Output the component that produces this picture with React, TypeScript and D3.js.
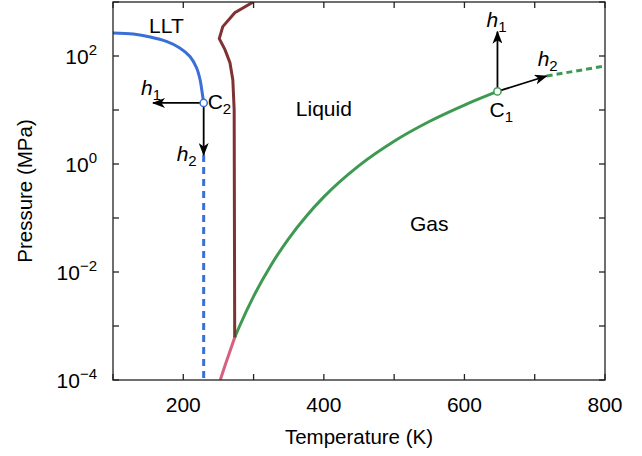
import * as d3 from "d3";

// liquid–gas coexistence (solid green), T in K, P in MPa
const vapT = [273.16, 280, 300, 325, 350, 375, 400, 450, 500, 550, 600, 647];
const vapP = [0.000611, 0.00099, 0.00354, 0.0135, 0.0417, 0.108, 0.2457, 0.932, 2.64, 6.12, 12.34, 22.06];

// supercritical continuation (dashed green)
const widomT = [717, 800];
const widomP = [42.6, 65.3];

// melting line (brown)
const meltT = [273.16, 272.4, 270.5, 266.4, 259.3, 251.2, 256.2, 273.3, 299.6];
const meltP = [0.000611, 10, 36, 75, 131, 209.9, 350, 632.4, 1000];

// sublimation line (pink)
const sublT = [252.6, 260, 273.16];
const sublP = [0.0001, 0.000196, 0.000611];

// liquid–liquid transition (solid blue) and its dashed continuation
const lltT = [100, 129, 153, 176, 195, 209.5, 219, 224, 226.2, 229];
const lltP = [267, 255, 225, 186, 141, 98, 60, 36, 24, 13.5];
const lltDashT = [229, 229];
const lltDashP = [1.47, 0.0001];

// critical points
const c1 = { T: 647, P: 22.06 };
const c2 = { T: 229, P: 13.5 };

// h1/h2 arrows: from, to (T, P)
const arrowFrom = [c2, c2, c1, c1];
const arrowTo = [
  { T: 156.9, P: 13.5 },
  { T: 229, P: 1.47 },
  { T: 647, P: 282 },
  { T: 717, P: 42.6 },
];
const arrowSub = ["1", "2", "1", "2"];

const xTicks = [100, 200, 300, 400, 500, 600, 700, 800];
const xLabels = [200, 400, 600, 800];
const yTicks = [-4, -3, -2, -1, 0, 1, 2, 3];
const yLabels = [-4, -2, 0, 2];

const regions = [
  { name: "LLT", T: 176, P: 270 },
  { name: "Liquid", T: 400, P: 7.8 },
  { name: "Gas", T: 550, P: 0.057 },
];

const font = "'Liberation Sans', Arial, Helvetica, sans-serif";

export default function App() {
  const W = 642;
  const H = 456;
  const x = d3.scaleLinear().domain([100, 800]).range([113, 605]);
  const y = d3.scaleLog().domain([1e-4, 1e3]).range([380, 2]);
  const [x0, x1] = x.range();
  const [y0, y1] = y.range();

  const path = (ts: number[], ps: number[], curve: d3.CurveFactory = d3.curveLinear) =>
    d3
      .line<number>()
      .x((_, i) => x(ts[i]))
      .y((_, i) => y(ps[i]))
      .curve(curve)(ts) ?? "";

  const tickLen = 6;
  const axisColor = "#222";
  const fs = 21;
  const sub = 15;

  // label offsets relative to the arrow tip (px)
  const hOffset = [
    { dx: -12, dy: -8 },
    { dx: -27, dy: 6 },
    { dx: -11, dy: -5 },
    { dx: -9, dy: -10 },
  ];

  return (
    <svg
      width={W}
      height={H}
      style={{ position: "absolute", left: 0, top: 0, background: "#fff" }}
      fontFamily={font}
    >
      <defs>
        <marker
          id="arr"
          viewBox="0 0 13 10"
          refX={12}
          refY={5}
          markerWidth={13}
          markerHeight={10}
          markerUnits="userSpaceOnUse"
          orient="auto"
        >
          <path d="M0,0 L13,5 L0,10 L3.5,5 Z" fill="#000" />
        </marker>
        <clipPath id="plot">
          <rect x={x0} y={y1} width={x1 - x0} height={y0 - y1} />
        </clipPath>
      </defs>

      {/* curves */}
      <g clipPath="url(#plot)" fill="none" strokeWidth={3}>
        <path d={path(sublT, sublP)} stroke="#d5607f" />
        <path d={path(vapT, vapP, d3.curveMonotoneX)} stroke="#3e9a52" />
        <path d={path(widomT, widomP)} stroke="#3e9a52" strokeDasharray="6,4" />
        <path d={path(meltT, meltP)} stroke="#803232" strokeLinejoin="miter" />
        <path d={path(lltT, lltP, d3.curveCatmullRom.alpha(0.5))} stroke="#3a6fd8" />
        <path d={path(lltDashT, lltDashP)} stroke="#3a6fd8" strokeDasharray="7,5" />
      </g>

      {/* arrows */}
      {arrowFrom.map((f, i) => (
        <line
          key={"a" + i}
          x1={x(f.T)}
          y1={y(f.P)}
          x2={x(arrowTo[i].T)}
          y2={y(arrowTo[i].P)}
          stroke="#000"
          strokeWidth={1.8}
          markerEnd="url(#arr)"
        />
      ))}
      {arrowTo.map((t, i) => (
        <text
          key={"h" + i}
          x={x(t.T) + hOffset[i].dx}
          y={y(t.P) + hOffset[i].dy}
          fontSize={fs}
          fill="#000"
        >
          <tspan fontStyle="italic">h</tspan>
          <tspan fontSize={sub} dy={5}>
            {arrowSub[i]}
          </tspan>
        </text>
      ))}

      {/* critical points */}
      <circle cx={x(c1.T)} cy={y(c1.P)} r={3.6} fill="#fff" stroke="#3e9a52" strokeWidth={1.5} />
      <circle cx={x(c2.T)} cy={y(c2.P)} r={3.6} fill="#fff" stroke="#3a6fd8" strokeWidth={1.5} />
      <text x={x(c1.T) - 8} y={y(c1.P) + 26} fontSize={fs}>
        C<tspan fontSize={sub} dy={5}>1</tspan>
      </text>
      <text x={x(c2.T) + 4} y={y(c2.P) + 6} fontSize={fs}>
        C<tspan fontSize={sub} dy={5}>2</tspan>
      </text>

      {/* region labels */}
      {regions.map((r) => (
        <text key={r.name} x={x(r.T)} y={y(r.P)} fontSize={fs} textAnchor="middle">
          {r.name}
        </text>
      ))}

      {/* frame */}
      <rect x={x0} y={y1} width={x1 - x0} height={y0 - y1} fill="none" stroke={axisColor} strokeWidth={1.3} />

      {/* x ticks */}
      {xTicks.map((t) => (
        <g key={"xt" + t} stroke={axisColor} strokeWidth={1.3}>
          <line x1={x(t)} x2={x(t)} y1={y0} y2={y0 - tickLen} />
          <line x1={x(t)} x2={x(t)} y1={y1} y2={y1 + tickLen} />
        </g>
      ))}
      {xLabels.map((t) => (
        <text key={"xl" + t} x={x(t)} y={y0 + 32} fontSize={fs} textAnchor="middle">
          {t}
        </text>
      ))}

      {/* y ticks */}
      {yTicks.map((e) => (
        <g key={"yt" + e} stroke={axisColor} strokeWidth={1.3}>
          <line x1={x0} x2={x0 + tickLen} y1={y(10 ** e)} y2={y(10 ** e)} />
          <line x1={x1} x2={x1 - tickLen} y1={y(10 ** e)} y2={y(10 ** e)} />
        </g>
      ))}
      {yLabels.map((e) => (
        <text key={"yl" + e} x={97} y={y(10 ** e) + 7.5} fontSize={fs} textAnchor="end">
          10
          <tspan fontSize={sub} dy={-9}>
            {e < 0 ? "\u2212" + Math.abs(e) : String(e)}
          </tspan>
        </text>
      ))}

      {/* axis titles */}
      <text x={(x0 + x1) / 2} y={444} fontSize={20.5} textAnchor="middle">
        Temperature (K)
      </text>
      <text
        transform={`translate(32,${(y0 + y1) / 2}) rotate(-90)`}
        fontSize={20.5}
        textAnchor="middle"
      >
        Pressure (MPa)
      </text>
    </svg>
  );
}
